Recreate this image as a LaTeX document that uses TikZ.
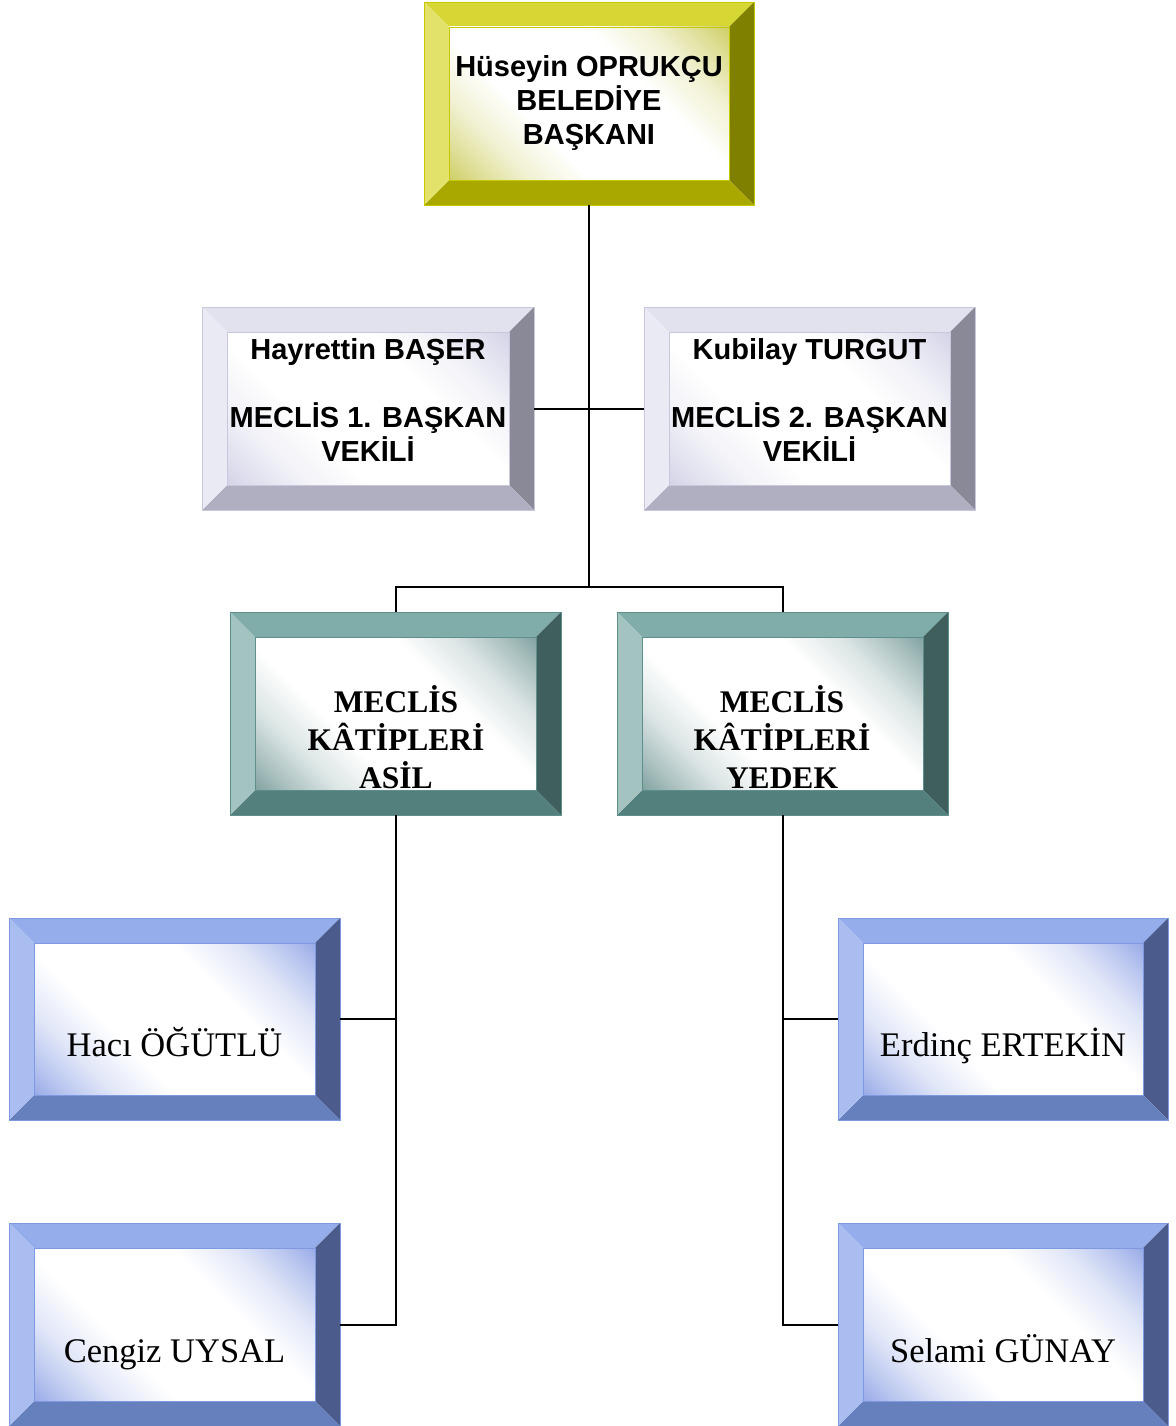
\documentclass[tikz,border=0pt]{standalone}
\usepackage{fontspec}
\setmainfont{Liberation Serif}
\newfontfamily\arialf{Liberation Sans}
\definecolor{yT}{HTML}{D6D635}\definecolor{yL}{HTML}{E2E26A}\definecolor{yR}{HTML}{808000}\definecolor{yB}{HTML}{A8A800}\definecolor{yIn}{HTML}{C8C850}\definecolor{yE}{HTML}{C8C800}
\definecolor{gT}{HTML}{E2E1EE}\definecolor{gL}{HTML}{EAEAF4}\definecolor{gR}{HTML}{8A8998}\definecolor{gB}{HTML}{B0AFC2}\definecolor{gIn}{HTML}{CDCDE4}\definecolor{gE}{HTML}{C8C8DC}
\definecolor{tT}{HTML}{80ACA9}\definecolor{tL}{HTML}{A3C3C1}\definecolor{tR}{HTML}{3F5F5D}\definecolor{tB}{HTML}{537F7C}\definecolor{tIn}{HTML}{6F9593}\definecolor{tE}{HTML}{5F8F8C}
\definecolor{bT}{HTML}{96ADEB}\definecolor{bL}{HTML}{AABDF1}\definecolor{bR}{HTML}{4A5B8C}\definecolor{bB}{HTML}{6680BE}\definecolor{bIn}{HTML}{8A9FE4}\definecolor{bE}{HTML}{7F99E0}
\colorlet{bevc}{gray}
\pgfdeclareverticalshading[bevc]{bevmid}{100bp}{color(0bp)=(bevc); color(12bp)=(bevc); color(20bp)=(bevc!60!white); color(28bp)=(bevc!25!white); color(38bp)=(white); color(62bp)=(white); color(72bp)=(bevc!25!white); color(80bp)=(bevc!60!white); color(88bp)=(bevc); color(100bp)=(bevc)}
\newcommand\bw{25}
\newcommand\bevbox[6]{%
  \fill[#6T] (#2,#3) -- (#4,#3) -- ({#4-\bw},{#3+\bw}) -- ({#2+\bw},{#3+\bw}) -- cycle;
  \fill[#6R] (#4,#3) -- (#4,#5) -- ({#4-\bw},{#5-\bw}) -- ({#4-\bw},{#3+\bw}) -- cycle;
  \fill[#6B] (#2,#5) -- (#4,#5) -- ({#4-\bw},{#5-\bw}) -- ({#2+\bw},{#5-\bw}) -- cycle;
  \fill[#6L] (#2,#3) -- (#2,#5) -- ({#2+\bw},{#5-\bw}) -- ({#2+\bw},{#3+\bw}) -- cycle;
  \colorlet{bevc}{#6In}%
  \shade[shading=bevmid, shading angle=-45] ({#2+\bw},{#3+\bw}) rectangle ({#4-\bw},{#5-\bw});
  \draw[#6E, line width=0.8] (#2,#3) rectangle (#4,#5);
  \draw[#6E, line width=0.6] ({#2+\bw},{#3+\bw}) rectangle ({#4-\bw},{#5-\bw});
  \node[inner sep=0, minimum width={#4-#2}, minimum height={#5-#3}] (#1) at ({(#2+#4)/2},{(#3+#5)/2}) {};
}
\tikzset{
  conn/.style={draw=black, line width=2},
  sanslbl/.style={align=center, inner sep=0, font=\arialf\bfseries\fontsize{29}{34}\selectfont},
  seriflbl/.style={align=center, inner sep=0, font=\bfseries\fontsize{31.5}{38}\selectfont},
  namelbl/.style={anchor=base, inner sep=0, font=\fontsize{34.5}{40}\selectfont},
}
\begin{document}
\begin{tikzpicture}[x=1pt,y=-1pt]
\useasboundingbox (0,0) rectangle (1175,1426);
\bevbox{top}{424}{2}{754}{205}{y}
\bevbox{g1}{202}{307}{534}{510}{g}
\bevbox{g2}{644}{307}{975}{510}{g}
\bevbox{t1}{230}{612}{561}{815}{t}
\bevbox{t2}{617}{612}{948}{815}{t}
\bevbox{b1}{9}{918}{340}{1120}{b}
\bevbox{b2}{9}{1223}{340}{1426}{b}
\bevbox{b3}{838}{918}{1168}{1120}{b}
\bevbox{b4}{838}{1223}{1168}{1426}{b}
% texts
\node[sanslbl] (topt) at (589,103.5) {Hüseyin OPRUKÇU\\BELEDİYE\\BAŞKANI};
\node[sanslbl] (g1t) at (368,400) {Hayrettin BAŞER\\[33.5pt]MECLİS 1. BAŞKAN\\VEKİLİ};
\node[sanslbl] (g2t) at (809.5,400) {Kubilay TURGUT\\[33.5pt]MECLİS 2. BAŞKAN\\VEKİLİ};
\node[seriflbl] (t1t) at (396,737) {MECLİS\\KÂTİPLERİ\\ASİL};
\node[seriflbl] (t2t) at (782,737) {MECLİS\\KÂTİPLERİ\\YEDEK};
\node[namelbl] (b1t) at (174.5,1056) {Hacı ÖĞÜTLÜ};
\node[namelbl] (b2t) at (174.5,1362) {Cengiz UYSAL};
\node[namelbl] (b3t) at (1003,1056) {Erdinç ERTEKİN};
\node[namelbl] (b4t) at (1003,1362) {Selami GÜNAY};
% connectors
\coordinate (j) at (589,587);
\draw[conn] (top.south) -- (j);
\draw[conn] (g1.east) -- (g2.west);
\draw[conn] (t1.north) |- (j) -| (t2.north);
\draw[conn] (t1.south) |- (b2.east);
\draw[conn] (b1.east) -- (b1.east -| t1.south);
\draw[conn] (t2.south) |- (b4.west);
\draw[conn] (b3.west) -- (b3.west -| t2.south);
\end{tikzpicture}
\end{document}
